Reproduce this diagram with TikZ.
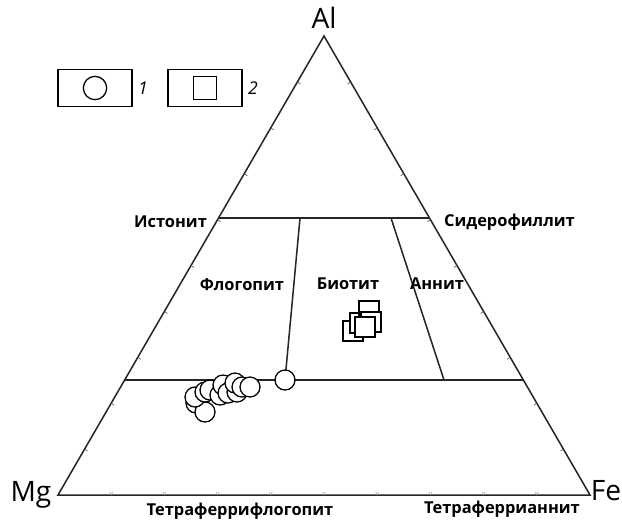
\documentclass[tikz,border=0pt]{standalone}
\usepackage{fontspec}
\setmainfont{Open Sans}
\usetikzlibrary{calc}
\tikzset{
  edge/.style = {draw, line width=1.3pt, black!85},
  tick/.style = {draw, line width=0.5pt, black!70},
  lbl/.style = {font=\fontsize{14}{16}\selectfont\bfseries},
  corner/.style = {font=\fontsize{24}{28}\selectfont},
  legbox/.style = {draw, line width=1.3pt, minimum width=2.22cm, minimum height=1.1cm},
  ol/.style = {draw, circle, fill=white, line width=1.1pt, minimum size=0.6cm, inner sep=0pt},
  sq/.style = {draw, fill=white, line width=1.1pt, minimum size=0.6cm, inner sep=0pt}
}
\begin{document}
\begin{tikzpicture}[x=0.03cm, y=-0.03cm]
\useasboundingbox (0,0) rectangle (622,519);
% corners of the triangle
\coordinate (Mg) at (58,495);
\coordinate (Fe) at (590,495);
\coordinate (Al) at (324,36);
\draw[edge] (Mg) -- (Fe) -- (Al) -- cycle;

% ticks every 10 %
\foreach \t in {1,...,9} {
  \draw[tick] ($(Mg)!\t/10!(Al)$) -- ++(3,2);
  \draw[tick] ($(Fe)!\t/10!(Al)$) -- ++(-3,2);
  \draw[tick, black!35] ($(Mg)!\t/10!(Fe)$) -- ++(-1.5,-3) ++(1.5,3) -- ++(1.5,-3);
}

% field boundaries
\coordinate (ist) at ($(Mg)!0.6035!(Al)$);
\coordinate (sid) at ($(Fe)!0.6035!(Al)$);
\coordinate (tl) at ($(Mg)!0.2505!(Al)$);
\coordinate (tr) at ($(Fe)!0.2505!(Al)$);
\coordinate (fb1) at (300,218);
\coordinate (fb2) at (285,380);
\coordinate (ba1) at (391,218);
\coordinate (ba2) at (444,380);
\draw[edge] (ist) -- (sid);
\draw[edge] (tl) -- (tr);
\draw[edge] (fb1) -- (fb2);
\draw[edge] (ba1) -- (ba2);

% labels
\node[corner] (lAl) at (324,18) {Al};
\node[corner] (lMg) at (31,495) {Mg};
\node[corner] (lFe) at (606,491) {Fe};
\node[lbl, anchor=east] (lIst) at (211,222) {Истонит};
\node[lbl, anchor=west] (lSid) at (440,222) {Сидерофиллит};
\node[lbl] (lFlo) at (242,285) {Флогопит};
\node[lbl] (lBio) at (348,284) {Биотит};
\node[lbl] (lAnn) at (437,284) {Аннит};
\node[lbl] (lTfl) at (240,511) {Тетраферрифлогопит};
\node[lbl] (lTan) at (502,509) {Тетраферрианнит};

% legend
\node[legbox] (leg1) at (95,88) {};
\node[ol, minimum size=0.7cm] (leg1m) at (leg1) {};
\node[font=\fontsize{15}{18}\selectfont\itshape, anchor=west] (leg1t) at (134,88) {1};
\node[legbox] (leg2) at (205,88) {};
\node[sq, minimum size=0.7cm] (leg2m) at (leg2) {};
\node[font=\fontsize{15}{18}\selectfont\itshape, anchor=west] (leg2t) at (244,88) {2};

% samples 1
\foreach \x/\y [count=\i] in {196/403, 205/412, 195/397, 205/392, 210/390,
    220/395, 223/385, 228/393, 237/392, 235/383, 242/387, 250/387, 285/380}
  \node[ol] (c\i) at (\x,\y) {};

% samples 2
\foreach \x/\y [count=\i] in {353/331, 360/323, 369/311, 371/322, 365/327}
  \node[sq] (s\i) at (\x,\y) {};
\end{tikzpicture}
\end{document}
